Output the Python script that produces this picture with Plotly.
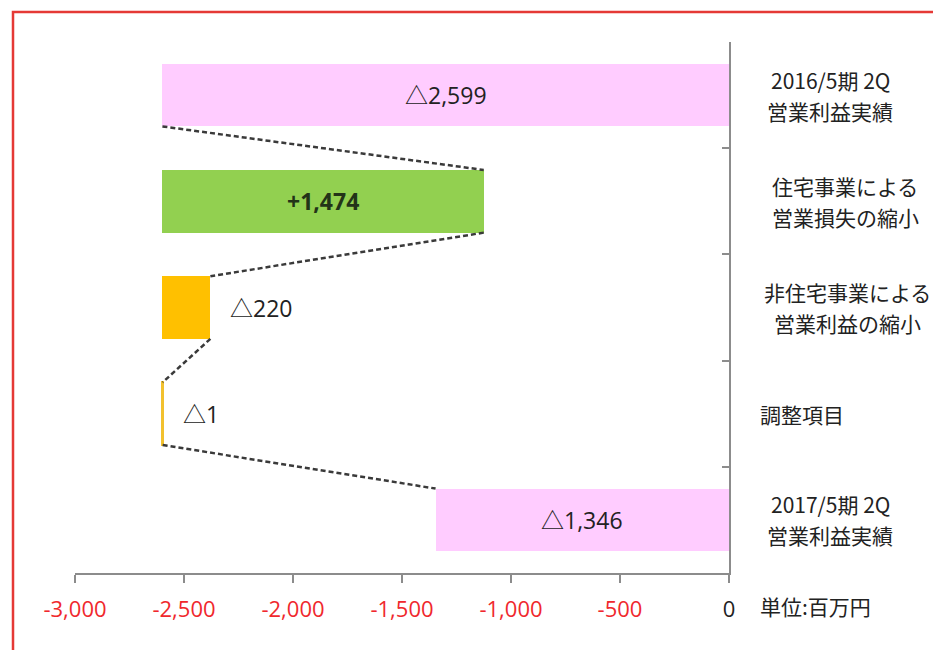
import plotly.graph_objects as go

# ---- data ----
category_lines = [
    ["2016/5期 2Q", "営業利益実績"],
    ["住宅事業による", "営業損失の縮小"],
    ["非住宅事業による", "営業利益の縮小"],
    ["調整項目"],
    ["2017/5期 2Q", "営業利益実績"],
]
values = [-2599, 1474, -220, -1, -1346]
value_labels = ["△2,599", "+1,474", "△220", "△1", "△1,346"]
bar_colors = ["#FFCCFF", "#92D050", "#FFC000", "#FFC000", "#FFCCFF"]
x_tickvals = [-3000, -2500, -2000, -1500, -1000, -500, 0]
x_ticktext = ["-3,000", "-2,500", "-2,000", "-1,500", "-1,000", "-500",
              "<span style='color:#222'>0</span>"]
unit_label = "単位:百万円"

# bar geometry as drawn in the original chart
start = values[0]
bases = [start, start, start, start, values[-1]]
lengths = [abs(v) for v in values]
ends = [b + l for b, l in zip(bases, lengths)]
anchors = [bases[0], ends[1], ends[2], ends[3], bases[4]]

pos = list(range(len(category_lines)))
BW = 0.59

fig = go.Figure()
fig.add_trace(go.Bar(
    orientation="h", y=pos, x=lengths, base=bases, width=BW,
    marker=dict(color=bar_colors,
                line=dict(color=["rgba(0,0,0,0)"] * 3 + ["#F2C12E", "rgba(0,0,0,0)"],
                          width=[0, 0, 0, 2, 0])),
    hoverinfo="skip", showlegend=False,
))

for i in range(len(pos) - 1):
    fig.add_trace(go.Scatter(
        x=[anchors[i], anchors[i + 1]],
        y=[pos[i] + BW / 2, pos[i + 1] - BW / 2],
        mode="lines", line=dict(color="#3A3A3A", width=2.5, dash="5px,3px"),
        hoverinfo="skip", showlegend=False,
    ))

ann = []
jp = "Noto Sans CJK JP"
num_font = "Open Sans, " + jp
for i, lab in enumerate(value_labels):
    if i in (2, 3):
        ann.append(dict(x=ends[i], y=pos[i], xref="x", yref="y", text=lab,
                        showarrow=False, xanchor="left", xshift=18,
                        font=dict(family=num_font, size=23, color="#222")))
    else:
        ann.append(dict(x=(bases[i] + ends[i]) / 2, y=pos[i], xref="x", yref="y",
                        text=("<b>%s</b>" % lab) if i == 1 else lab,
                        showarrow=False, xanchor="center",
                        font=dict(family=num_font, size=23,
                                  color="#233318" if i == 1 else "#222")))

# category label centres (pixels from the plot's left edge)
PLOT_W = 654
label_centres_px = [755, 770, 772, 727, 755]
for i, lines in enumerate(category_lines):
    n = len(lines)
    for j, line in enumerate(lines):
        ann.append(dict(x=label_centres_px[i] / PLOT_W, y=pos[i], xref="paper", yref="y",
                        text=line, showarrow=False, xanchor="center", yanchor="middle",
                        yshift=(n - 1) * 15.5 - j * 31,
                        font=dict(family=jp, size=21, color="#222")))
ann.append(dict(x=1.045, y=-0.062, xref="paper", yref="paper", text=unit_label,
                showarrow=False, xanchor="left", yanchor="middle",
                font=dict(family=jp, size=21, color="#222")))

# page body has an 8px margin, so the figure is offset by 8px
fig.update_layout(
    width=933, height=642,
    margin=dict(l=67, r=212, t=34, b=77),
    paper_bgcolor="white", plot_bgcolor="white",
    bargap=0,
    annotations=ann,
    shapes=[dict(type="rect", xref="paper", yref="paper",
                 x0=(13 - 75) / 654, x1=1.5, y0=-0.5, y1=(573 - 12) / 531,
                 line=dict(color="#E53935", width=2.5), layer="below")],
    xaxis=dict(range=[-3000, 0], tickvals=x_tickvals, ticktext=x_ticktext,
               showgrid=False, zeroline=False, showline=True,
               linecolor="#8C8C8C", linewidth=1.5, ticks="outside",
               ticklen=8, tickcolor="#8C8C8C", tickwidth=1.5,
               ticklabelstandoff=8,
               tickfont=dict(family="Open Sans", size=22, color="#F0282D")),
    yaxis=dict(range=[len(pos) - 0.5, -0.5], side="right",
               tickvals=[p - 0.5 for p in pos] + [len(pos) - 0.5],
               showticklabels=False, showgrid=False, zeroline=False,
               showline=True, linecolor="#8C8C8C", linewidth=1.5,
               ticks="inside", ticklen=7, tickcolor="#8C8C8C", tickwidth=1.5),
)

fig.write_html("out.html")
